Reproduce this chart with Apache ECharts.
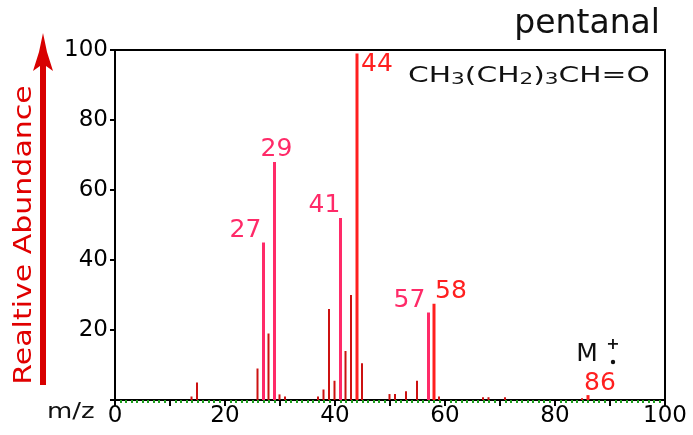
<!DOCTYPE html>
<html>
<head>
<meta charset="utf-8">
<script src="https://cdn.jsdelivr.net/npm/echarts@6/dist/echarts.min.js"></script>
<style>
  html, body { margin: 0; padding: 0; background: #fff; }
  #chart { width: 693px; height: 435px; }
</style>
</head>
<body>
<div id="chart"></div>
<script>
// peaks (m/z, relative abundance %)
const mz = [14, 15, 26, 27, 28, 29, 30, 31, 37, 38, 39, 40, 41, 42, 43, 44, 45,
  50, 51, 53, 55, 57, 58, 59, 67, 68, 71, 85, 86];
const abundance = [1, 5, 9, 45, 19, 68, 1.6, 1, 1, 3, 26, 5.5, 52, 14, 30, 99, 10.5,
  1.7, 1.7, 2.5, 5.5, 25, 27.5, 1, 0.8, 0.8, 0.8, 0.5, 1.4];
const labeledPeaks = [27, 29, 41, 44, 57, 58, 86];
const pinkPeaks = [27, 29, 41, 57];
const yTickLabels = [20, 40, 60, 80, 100];
const xTickLabels = [0, 20, 40, 60, 80, 100];

const PINK = '#ff2a68';
const RED = '#ff1f1f';
const DARK = '#cc1111';
const FONT = '"DejaVu Sans", Verdana, sans-serif';

// where each peak label sits relative to the top of its bar
const labelOffset = {
  27: [-18, 0], 29: [2, 0], 41: [-16, 0], 44: [20, 23],
  57: [-19, 0], 58: [17, 0], 86: [12, 1]
};

const minorData = [];
const majorData = [];
mz.forEach((m, i) => {
  if (labeledPeaks.indexOf(m) < 0) {
    minorData.push({ value: [m, abundance[i]], itemStyle: { color: DARK } });
    return;
  }
  const c = pinkPeaks.indexOf(m) >= 0 ? PINK : RED;
  majorData.push({
    value: [m, abundance[i]],
    itemStyle: { color: c },
    label: {
      show: true,
      position: 'top',
      distance: 0,
      offset: labelOffset[m],
      formatter: String(m),
      color: c,
      fontFamily: FONT,
      fontSize: 25
    }
  });
});

const chart = echarts.init(document.getElementById('chart'));

chart.setOption({
  animation: false,
  backgroundColor: '#fff',
  grid: {
    left: 115, right: 28, top: 50, bottom: 35,
    show: true, borderColor: '#000', borderWidth: 2
  },
  xAxis: {
    type: 'value',
    min: 0, max: 100, interval: 10,
    axisLine: { onZero: false, lineStyle: { color: '#000', width: 2 } },
    axisTick: { length: 6, lineStyle: { color: '#000', width: 2 } },
    minorTick: { show: true, splitNumber: 10, length: 3, lineStyle: { color: '#1e9e1e', width: 2 } },
    splitLine: { show: false },
    axisLabel: {
      showMinLabel: true, showMaxLabel: true,
      margin: 5,
      color: '#000', fontFamily: FONT, fontSize: 23,
      formatter: v => (xTickLabels.indexOf(v) >= 0 ? String(v) : '')
    }
  },
  yAxis: {
    type: 'value',
    min: 0, max: 100, interval: 20,
    axisLine: { show: true, lineStyle: { color: '#000', width: 2 } },
    axisTick: { show: true, length: 5, lineStyle: { color: '#000', width: 2 } },
    splitLine: { show: false },
    axisLabel: {
      margin: 7,
      color: '#000', fontFamily: FONT, fontSize: 23,
      formatter: v => (yTickLabels.indexOf(v) >= 0 ? String(v) : '')
    }
  },
  series: [
    { type: 'bar', barWidth: 2, barGap: '-100%', data: minorData },
    { type: 'bar', barWidth: 3, barGap: '-100%', data: majorData }
  ]
});

// annotations: title, formula, axis captions, M+ marker
const m86 = chart.convertToPixel({ gridIndex: 0 }, [86, 0]);

chart.setOption({
  graphic: [
    {
      type: 'text', right: 33, top: 8,
      style: { text: 'pentanal', fill: '#111', font: '33px ' + FONT }
    },
    {
      type: 'text', x: 408, y: 76, scaleX: 1.35,
      style: {
        text: '{n|CH}{s|3}{n|(CH}{s|2}{n|)}{s|3}{n|CH=O}',
        verticalAlign: 'middle',
        rich: {
          n: { fontFamily: FONT, fontSize: 22, fill: '#111' },
          s: { fontFamily: FONT, fontSize: 16, fill: '#111', padding: [8, 0, 0, 0] }
        }
      }
    },
    {
      type: 'text', x: 47, y: 412, scaleX: 1.18,
      style: { text: 'm/z', fill: '#111', font: '22px ' + FONT, verticalAlign: 'middle' }
    },
    {
      type: 'text', x: 24, y: 235, rotation: Math.PI / 2, scaleX: 1.2,
      style: {
        text: 'Realtive Abundance', fill: '#e00000', font: '25px ' + FONT,
        align: 'center', verticalAlign: 'middle'
      }
    },
    {
      type: 'polygon',
      shape: {
        points: [[43, 33], [47, 52], [53, 71], [46, 66], [46, 385], [40, 385],
          [40, 66], [33, 71], [39, 52]]
      },
      style: { fill: '#d80000' }
    },
    {
      type: 'text', x: m86[0] - 1, y: m86[1] - 46,
      style: { text: 'M', fill: '#111', font: '25px ' + FONT, align: 'center', verticalAlign: 'middle' }
    },
    {
      type: 'text', x: m86[0] + 25, y: m86[1] - 55,
      style: { text: '+', fill: '#111', font: 'bold 16px ' + FONT, align: 'center', verticalAlign: 'middle' }
    },
    {
      type: 'circle', shape: { cx: m86[0] + 25, cy: m86[1] - 38, r: 2.2 },
      style: { fill: '#111' }
    }
  ]
});
</script>
</body>
</html>
